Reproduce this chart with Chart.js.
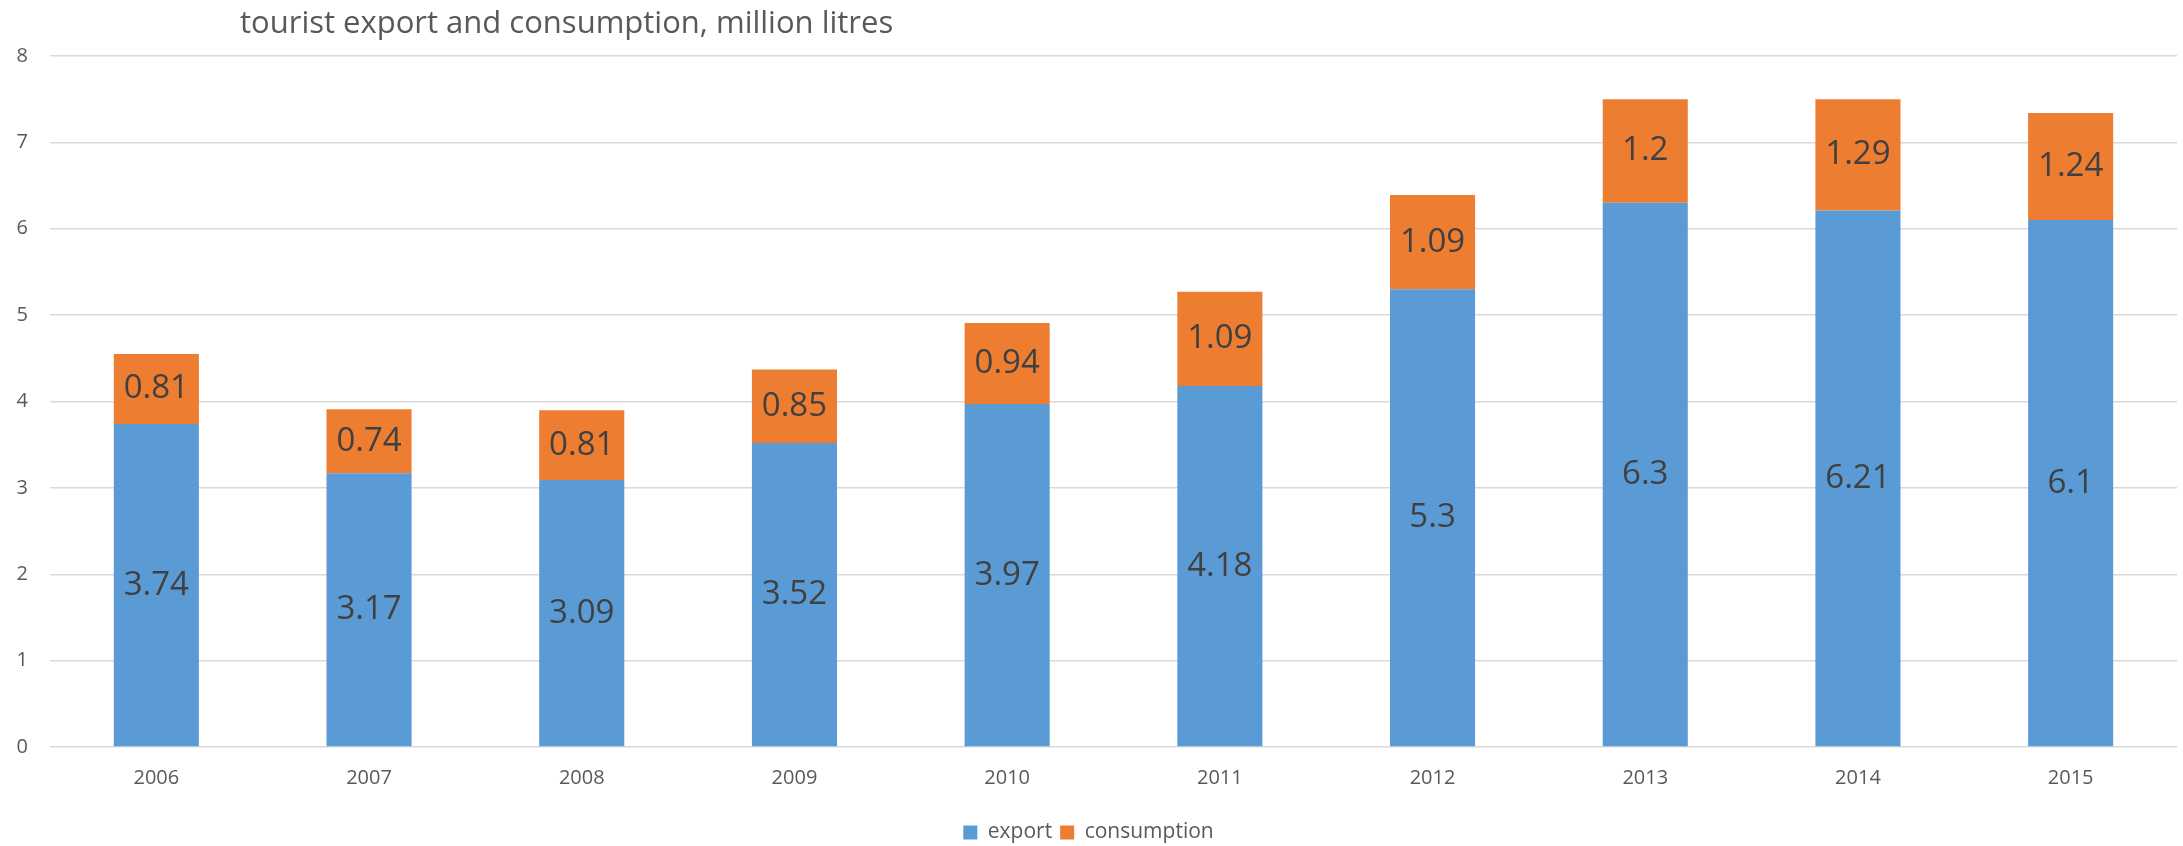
<!DOCTYPE html>
<html>
<head>
<meta charset="utf-8">
<script src="https://cdn.jsdelivr.net/npm/chart.js@4"></script>
<style>
  html, body { margin: 0; padding: 0; background: #fff; }
  #wrap { width: 2183px; height: 846px; }
</style>
</head>
<body>
<div id="wrap"><canvas id="wasteChart" width="2183" height="846"></canvas></div>
<script>
const years = ['2006', '2007', '2008', '2009', '2010', '2011', '2012', '2013', '2014', '2015'];
const exportValues = [3.74, 3.17, 3.09, 3.52, 3.97, 4.18, 5.3, 6.3, 6.21, 6.1];
const consumptionValues = [0.81, 0.74, 0.81, 0.85, 0.94, 1.09, 1.09, 1.2, 1.29, 1.24];
const yTicks = [0, 1, 2, 3, 4, 5, 6, 7, 8];
const titleText = 'tourist export and consumption, million litres';

const FONT = "'Open Sans', 'Liberation Sans', sans-serif";

// labels in the middle of every stacked segment
const barLabels = {
    id: 'barLabels',
    afterDatasetsDraw(chart) {
        const ctx = chart.ctx;
        ctx.save();
        ctx.font = '33px ' + FONT;
        ctx.fillStyle = '#404040';
        ctx.textAlign = 'center';
        ctx.textBaseline = 'middle';
        chart.data.datasets.forEach((ds, i) => {
            chart.getDatasetMeta(i).data.forEach((bar, j) => {
                ctx.fillText(String(ds.data[j]), bar.x, (bar.y + bar.base) / 2);
            });
        });
        ctx.restore();
    }
};

// title sits left of centre in the original, so draw it by hand
const leftTitle = {
    id: 'leftTitle',
    afterDraw(chart) {
        const ctx = chart.ctx;
        ctx.save();
        ctx.font = '31px ' + FONT;
        ctx.fillStyle = '#595959';
        ctx.textAlign = 'left';
        ctx.textBaseline = 'middle';
        ctx.fillText(titleText, 240, 24);
        ctx.restore();
    }
};

const ctx = document.getElementById('wasteChart').getContext('2d');
new Chart(ctx, {
    type: 'bar',
    data: {
        labels: years,
        datasets: [{
            label: 'export',
            data: exportValues,
            backgroundColor: '#5B9BD5',
            borderWidth: 0
        }, {
            label: 'consumption',
            data: consumptionValues,
            backgroundColor: '#ED7D31',
            borderWidth: 0
        }]
    },
    options: {
        responsive: false,
        animation: false,
        devicePixelRatio: 1,
        layout: { padding: { top: 56, right: 6, left: 0, bottom: -7 } },
        datasets: { bar: { categoryPercentage: 1, barPercentage: 0.4 } },
        scales: {
            x: {
                stacked: true,
                grid: { display: false },
                border: { display: false },
                afterFit(axis) { axis.height += 13; },
                ticks: { color: '#595959', font: { family: FONT, size: 20 }, padding: 11 }
            },
            y: {
                stacked: true,
                min: 0,
                max: 8,
                afterBuildTicks(axis) { axis.ticks = yTicks.map(v => ({ value: v })); },
                afterFit(axis) { axis.width = 50; },
                grid: { color: '#d9d9d9', lineWidth: 1.5, drawTicks: false },
                border: { display: false },
                ticks: { color: '#595959', font: { family: FONT, size: 20 }, padding: 22 }
            }
        },
        plugins: {
            legend: {
                position: 'bottom',
                labels: {
                    color: '#595959',
                    font: { family: FONT, size: 21 },
                    boxWidth: 14,
                    boxHeight: 14,
                    padding: 8
                }
            },
            tooltip: { enabled: false }
        }
    },
    plugins: [barLabels, leftTitle]
});
</script>
</body>
</html>
